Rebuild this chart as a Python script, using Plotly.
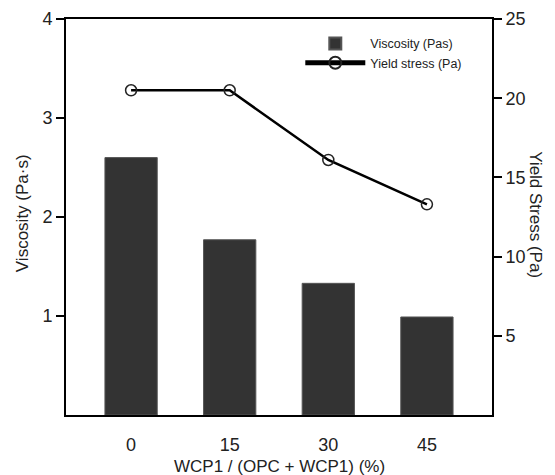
import plotly.graph_objects as go

categories = ["0", "15", "30", "45"]
viscosity = [2.60, 1.77, 1.33, 0.99]
yield_stress = [20.5, 20.5, 16.1, 13.3]
left_ticks = [1, 2, 3, 4]
right_ticks = [5, 10, 15, 20, 25]

FONT = "Liberation Sans, Arial, sans-serif"

fig = go.Figure()
fig.add_trace(go.Bar(
    x=categories, y=viscosity, name="Viscosity (Pas)",
    marker=dict(color="#333333", line=dict(color="#555555", width=1)),
    width=0.53, yaxis="y",
))
fig.add_trace(go.Scatter(
    x=categories, y=yield_stress, name="Yield stress (Pa)",
    mode="lines+markers", yaxis="y2",
    line=dict(color="black", width=2.5),
    marker=dict(symbol="circle-open", size=11, color="#222222", line=dict(width=1.5)),
))

fig.update_layout(
    width=555, height=475,
    margin=dict(l=66, r=63, t=19, b=60),
    paper_bgcolor="white", plot_bgcolor="white",
    font=dict(family=FONT, color="#222222"),
    bargap=0.4,
    showlegend=True,
    legend=dict(
        x=0.55, y=0.975, xanchor="left", yanchor="top",
        bgcolor="rgba(0,0,0,0)", font=dict(size=12.5, family=FONT),
        itemwidth=60, tracegroupgap=0, itemsizing="constant",
    ),
    xaxis=dict(
        type="category", range=[-0.66, 3.66], automargin=False,
        showline=True, linecolor="black", linewidth=2, mirror=True,
        ticks="", tickfont=dict(size=18), showgrid=False,
        ticklabelstandoff=12,
    ),
    yaxis=dict(
        range=[0, 4], tickvals=left_ticks, ticktext=[str(v) for v in left_ticks],
        automargin=False,
        showline=True, linecolor="black", linewidth=2,
        ticks="outside", ticklen=8, tickwidth=2, tickcolor="black",
        tickfont=dict(size=18), showgrid=False, zeroline=False,
    ),
    yaxis2=dict(
        range=[0, 25], tickvals=right_ticks, ticktext=[str(v) for v in right_ticks],
        overlaying="y", side="right", automargin=False,
        showline=True, linecolor="black", linewidth=2,
        ticks="outside", ticklen=8, tickwidth=2, tickcolor="black",
        tickfont=dict(size=18), showgrid=False, zeroline=False,
    ),
    annotations=[
        dict(
            text="Viscosity (Pa·s)", textangle=-90, xref="paper", yref="paper",
            x=-0.103, y=0.51, showarrow=False,
            font=dict(size=17, family=FONT, color="#222222"),
            xanchor="center", yanchor="middle",
        ),
        dict(
            text="Yield Stress (Pa)", textangle=90, xref="paper", yref="paper",
            x=1.103, y=0.505, showarrow=False,
            font=dict(size=17, family=FONT, color="#222222"),
            xanchor="center", yanchor="middle",
        ),
        dict(
            text="WCP1 / (OPC + WCP1) (%)", xref="paper", yref="paper",
            x=0.5, y=-0.129, showarrow=False,
            font=dict(size=17, family=FONT, color="#222222"),
            xanchor="center", yanchor="middle",
        ),
    ],
)

fig.write_html("out.html")
